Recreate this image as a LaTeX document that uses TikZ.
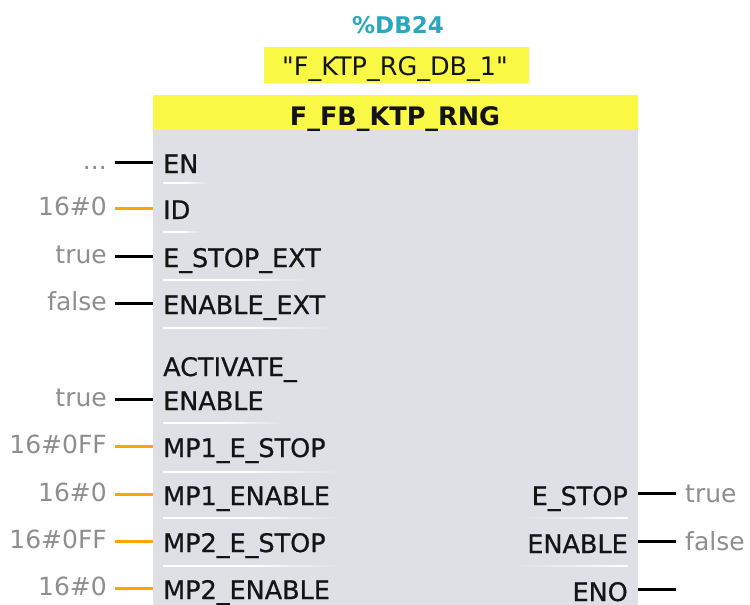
\documentclass[tikz,border=0pt]{standalone}
\usepackage{fontspec}
\setmainfont{DejaVu Sans}
\newfontfamily\lblfont{DejaVu Sans}[FakeBold=0.7]
\newfontfamily\quotefont{DejaVu Sans}[Ligatures=TeXOff]
\definecolor{boxgray}{HTML}{DFDFE6}
\definecolor{hdryellow}{HTML}{F8F845}
\definecolor{dbteal}{HTML}{2AA7BF}
\definecolor{valgray}{HTML}{8E8E8E}
\definecolor{pinorange}{HTML}{FFA500}
\definecolor{txtdark}{HTML}{141414}
\newcommand\mythreedots{...}
\tikzset{
  pinlabel/.style={anchor=base west, inner sep=0pt, text=txtdark, font=\lblfont\fontsize{25.5}{29}\selectfont},
  outlabel/.style={anchor=base east, inner sep=0pt, text=txtdark, font=\lblfont\fontsize{25.5}{29}\selectfont},
  valL/.style={anchor=base east, inner sep=0pt, text=valgray, font=\fontsize{25}{29}\selectfont},
  valR/.style={anchor=base west, inner sep=0pt, text=valgray, font=\fontsize{25}{29}\selectfont},
  wireb/.style={draw=black, line width=3pt},
  wireo/.style={draw=pinorange, line width=3pt},
  sepline/.style={left color=white, right color=boxgray, middle color=white}
}
\begin{document}
\begin{tikzpicture}[x=1pt,y=-1pt]
\useasboundingbox[fill=white] (0,0) rectangle (750,605);
% block
\node[fill=boxgray, anchor=north west, inner sep=0pt, minimum width=485pt, minimum height=510pt] (box) at (153,95) {};
\node[fill=hdryellow, anchor=north west, inner sep=0pt, minimum width=485pt, minimum height=35pt] (hdr) at (153,95) {};
\node[inner sep=0pt, anchor=base, font=\fontsize{25.5}{29}\selectfont\bfseries, text=txtdark] (title) at (395,125) {F\_FB\_KTP\_RNG};
\node[fill=hdryellow, anchor=north west, inner sep=0pt, minimum width=265pt, minimum height=36pt] (inst) at (264,47) {};
\node[inner sep=0pt, anchor=base, font=\quotefont\fontsize{25.5}{29}\selectfont, text=txtdark] (instname) at (395,75) {"F\_KTP\_RG\_DB\_1"};
\node[inner sep=0pt, anchor=base, font=\fontsize{23}{27}\selectfont\bfseries, text=dbteal] (db) at (398,34) {\%DB24};

% input pins
\foreach \nm/\yy/\lab/\val/\st in {
  en/162/EN/\mythreedots/wireb,
  id/208/ID/16\#0/wireo,
  es/256/E\_STOP\_EXT/true/wireb,
  ee/303/ENABLE\_EXT/false/wireb,
  ae/399/ENABLE/true/wireb,
  m1s/446/MP1\_E\_STOP/16\#0FF/wireo,
  m1e/494/MP1\_ENABLE/16\#0/wireo,
  m2s/541/MP2\_E\_STOP/16\#0FF/wireo,
  m2e/588/MP2\_ENABLE/16\#0/wireo}{
  \node[pinlabel] (p\nm) at (163,\yy+11) {\lab};
  \node[valL] (v\nm) at (107,\yy+7) {\val};
  \coordinate (w\nm) at (115,\yy);
  \draw[\st] (w\nm) -- (w\nm -| box.west);
}
\node[pinlabel] (pact) at (163,376) {ACTIVATE\_};

% separators left
\foreach \yy/\xe in {183/208, 232/202, 280/308, 328/334, 423/285, 472/338, 518/338, 566/338}{
  \shade[sepline] (163,\yy-0.8) rectangle (\xe,\yy+0.8);
}
% separators right
\foreach \yy/\xs in {518/525, 566/515}{
  \shade[left color=boxgray, right color=white] (\xs,\yy-0.8) rectangle (628,\yy+0.8);
}

% output pins
\foreach \nm/\yy/\lab/\val in {
  oes/493/E\_STOP/true,
  oen/541/ENABLE/false,
  oeno/589/ENO/}{
  \node[outlabel] (q\nm) at (628,\yy+12) {\lab};
  \coordinate (o\nm) at (676,\yy);
  \draw[wireb] (o\nm -| box.east) -- (o\nm);
  \node[valR] (r\nm) at (685,\yy+9) {\val};
}
\end{tikzpicture}
\end{document}
